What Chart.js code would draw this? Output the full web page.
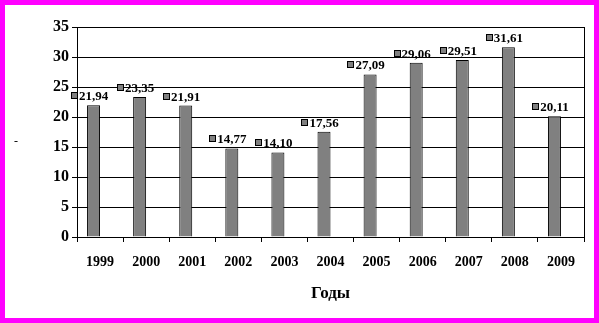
<!DOCTYPE html>
<html>
<head>
<meta charset="utf-8">
<script src="https://cdn.jsdelivr.net/npm/chart.js@4"></script>
<style>
  body { margin: 0; background: #fff; }
  canvas { display: block; }
</style>
</head>
<body>
<canvas id="chart" width="599" height="323"></canvas>
<script>
// data
const years = ['1999', '2000', '2001', '2002', '2003', '2004', '2005', '2006', '2007', '2008', '2009'];
const values = [21.94, 23.35, 21.91, 14.77, 14.10, 17.56, 27.09, 29.06, 29.51, 31.61, 20.11];
const emptySeries = [null, null, null, null, null, null, null, null, null, null, null];
const yTicks = [0, 5, 10, 15, 20, 25, 30, 35];
const xTitle = 'Годы';
const yTitle = '-';

const serif = "'Liberation Serif', 'Times New Roman', serif";

// frame, plot border and data labels with the little legend key
const decorPlugin = {
  id: 'decor',
  beforeDraw(chart) {
    const c = chart.ctx;
    c.save();
    c.fillStyle = '#fff';
    c.fillRect(0, 0, chart.width, chart.height);
    c.restore();
  },
  afterDatasetsDraw(chart) {
    const c = chart.ctx;
    const meta = chart.getDatasetMeta(0);
    c.save();
    c.font = 'bold 13px ' + serif;
    c.textAlign = 'center';
    c.textBaseline = 'alphabetic';
    meta.data.forEach((bar, i) => {
      const txt = values[i].toFixed(2).replace('.', ',');
      const base = Math.round(bar.y) - 5;
      const w = c.measureText(txt).width;
      c.fillStyle = '#000';
      c.fillText(txt, bar.x, base);
      const kx = Math.round(bar.x - w / 2) - 8;
      const ky = base - 8;
      c.fillStyle = '#808080';
      c.fillRect(kx, ky, 6, 6);
      c.strokeStyle = '#000';
      c.lineWidth = 1;
      c.strokeRect(kx + 0.5, ky + 0.5, 6, 6);
    });
    c.restore();
  },
  afterDraw(chart) {
    const c = chart.ctx;
    const a = chart.chartArea;
    c.save();
    // right edge of plot area
    c.strokeStyle = '#000';
    c.lineWidth = 1;
    c.beginPath();
    c.moveTo(Math.round(a.right) + 0.5, a.top);
    c.lineTo(Math.round(a.right) + 0.5, a.bottom);
    c.stroke();
    // stray y axis title
    c.fillStyle = '#000';
    c.font = '12px ' + serif;
    c.textAlign = 'center';
    c.textBaseline = 'middle';
    c.fillText(yTitle, 16, 142);
    // magenta frame
    c.fillStyle = '#ff00ff';
    c.fillRect(0, 0, chart.width, 5);
    c.fillRect(0, 0, 5, chart.height);
    c.fillRect(chart.width - 5, 0, 5, chart.height);
    c.fillRect(0, chart.height - 5, chart.width, 5);
    c.restore();
  }
};

const ctx = document.getElementById('chart').getContext('2d');
new Chart(ctx, {
  type: 'bar',
  data: {
    labels: years,
    datasets: [
      {
        data: values,
        backgroundColor: '#808080',
        borderColor: '#000',
        borderWidth: 1,
        categoryPercentage: 0.564,
        barPercentage: 1
      },
      {
        data: emptySeries,
        backgroundColor: '#808080',
        categoryPercentage: 0.564,
        barPercentage: 1
      }
    ]
  },
  options: {
    responsive: false,
    animation: false,
    events: [],
    layout: { padding: { left: 0, top: 27, right: 15, bottom: 0 } },
    plugins: {
      legend: { display: false },
      tooltip: { enabled: false }
    },
    scales: {
      x: {
        afterFit(scale) { scale.height = 86; },
        grid: {
          drawOnChartArea: false,
          color: '#000',
          tickLength: 5,
          offset: true
        },
        border: { color: '#000', width: 1 },
        ticks: {
          color: '#000',
          padding: 12,
          maxRotation: 0,
          font: { family: serif, size: 14, weight: 'bold' }
        },
        title: {
          display: true,
          text: xTitle,
          color: '#000',
          font: { family: serif, size: 17, weight: 'bold' },
          padding: { top: 0, bottom: 19 }
        }
      },
      y: {
        min: 0,
        max: 35,
        afterFit(scale) { scale.width = 77; },
        afterBuildTicks(scale) { scale.ticks = yTicks.map(v => ({ value: v })); },
        grid: { color: '#000', tickLength: 5 },
        border: { color: '#000', width: 1 },
        ticks: {
          color: '#000',
          padding: 3,
          font: { family: serif, size: 16, weight: 'bold' }
        }
      }
    }
  },
  plugins: [decorPlugin]
});
</script>
</body>
</html>
